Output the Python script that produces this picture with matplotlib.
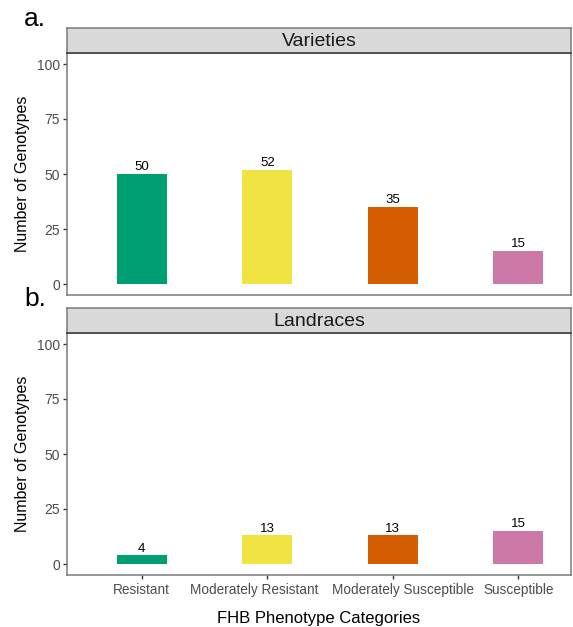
import numpy as np
import matplotlib
matplotlib.use("Agg")
import matplotlib.pyplot as plt
from matplotlib.transforms import ScaledTranslation

plt.rcParams['font.family'] = ['Liberation Sans', 'DejaVu Sans']

# data
categories = ["Resistant", "Moderately Resistant", "Moderately Susceptible", "Susceptible"]
varieties = [50, 52, 35, 15]
landraces = [4, 13, 13, 15]
colors = ["#009E73", "#F0E442", "#D55E00", "#CC79A7"]
yticks = [0, 25, 50, 75, 100]
panels = [("Varieties", varieties, "a."), ("Landraces", landraces, "b.")]

W, H = 573, 627
fig = plt.figure(figsize=(W / 100, H / 100), dpi=100)

border = "#7a7a7a"
left, right = 67, 571
# (axes top px, axes bottom px, strip top px)
boxes = [(53, 295, 28), (333, 575, 308)]
# label nudges in px so the long names don't collide
label_shift = [0, -13, 10, 0]

x = np.arange(1, len(categories) + 1)
for i, ((title, vals, letter), (top, bot, stop)) in enumerate(zip(panels, boxes)):
    ax = fig.add_axes([left / W, 1 - bot / H, (right - left) / W, (bot - top) / H])
    ax.bar(x, vals, width=0.4, color=colors, zorder=2)
    for xi, v in zip(x, vals):
        ax.annotate(str(v), (xi, v), xytext=(0, 2.6), textcoords="offset points",
                    ha="center", va="baseline", fontsize=9.5, color="black")
    ax.set_xlim(0.404, 4.42)
    ax.set_ylim(-5, 105)
    ax.set_yticks(yticks)
    ax.tick_params(axis="y", length=3, width=1, color="#333333", labelcolor="#4d4d4d",
                   labelsize=10, pad=2)
    for s in ax.spines.values():
        s.set_color(border)
        s.set_linewidth(1.1)
    ax.set_ylabel("Number of Genotypes", fontsize=11.5, labelpad=5)
    if i == 1:
        ax.set_xticks(x)
        ax.set_xticklabels(categories)
        ax.tick_params(axis="x", length=3, width=1, color="#333333", labelcolor="#4d4d4d",
                       labelsize=9.8, pad=3)
        for lab, dx in zip(ax.get_xticklabels(), label_shift):
            lab.set_transform(lab.get_transform() + ScaledTranslation(dx / 100, 0, fig.dpi_scale_trans))
        ax.set_xlabel("FHB Phenotype Categories", fontsize=12, labelpad=10)
    else:
        ax.set_xticks([])

    # strip header
    sax = fig.add_axes([left / W, 1 - top / H, (right - left) / W, (top - stop) / H])
    sax.set_xticks([])
    sax.set_yticks([])
    sax.set_facecolor("#D9D9D9")
    for s in sax.spines.values():
        s.set_color(border)
        s.set_linewidth(1.1)
    sax.spines["bottom"].set_color("#333333")
    sax.text(0.5, 0.47, title, transform=sax.transAxes, ha="center", va="center",
             fontsize=14, color="#1a1a1a")

    fig.text(24 / W, 1 - (stop - 9) / H, letter, fontsize=19, ha="left", va="center")

fig.savefig("out.png", dpi=100)
